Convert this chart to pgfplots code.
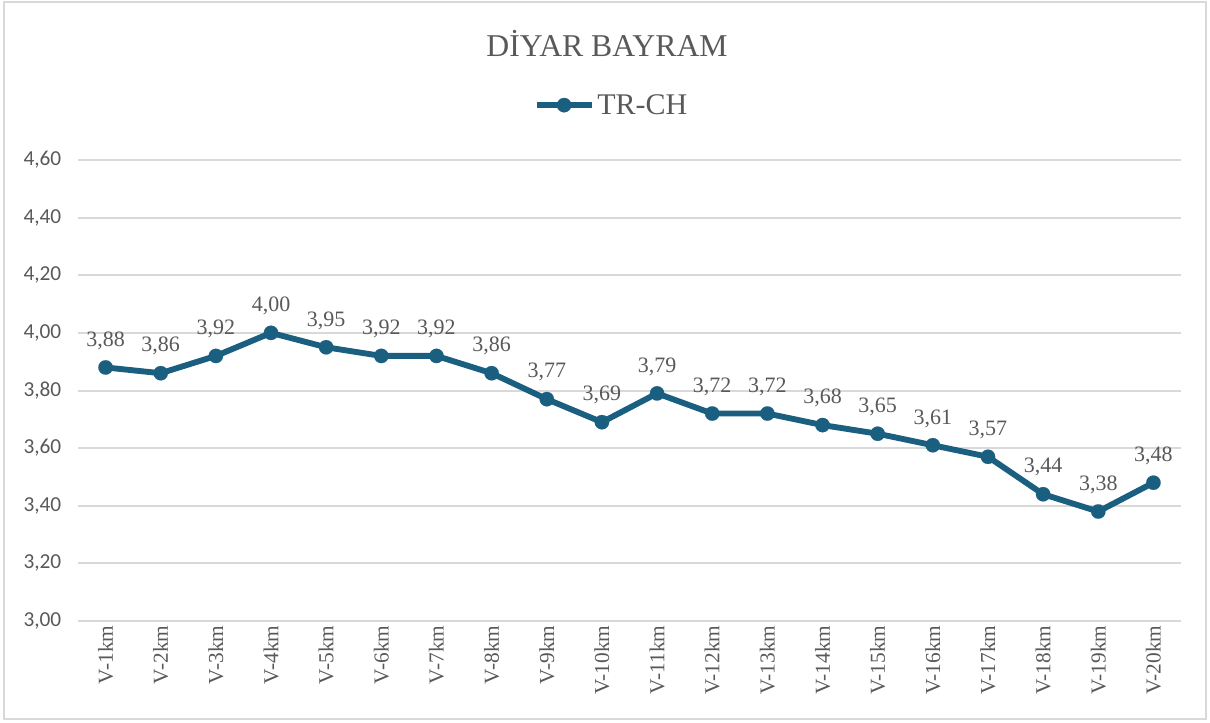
\documentclass[border=0pt]{standalone}
\usepackage{fontspec}
\setmainfont{Liberation Serif}
\newfontfamily\carlito{Carlito}
\usepackage{pgfplots}
\pgfplotsset{compat=1.18}
\definecolor{serie}{HTML}{1A5E80}
\definecolor{txt}{HTML}{595959}
\definecolor{grd}{HTML}{D9D9D9}
\begin{document}
\begin{tikzpicture}[x=0.75pt,y=0.75pt]
% picture size in px units
\path (0,0) rectangle (1210,722);
\draw[grd, line width=1.2pt] (4,3) rectangle (1206,720);
\node[font=\fontsize{23.8}{28}\selectfont, text=txt] at (607,679) {DİYAR BAYRAM};
\begin{axis}[
  at={(58.5pt,75.75pt)}, anchor=south west,
  scale only axis, width=827.25pt, height=345.75pt,
  xmin=0.5, xmax=20.5, ymin=3, ymax=4.6,
  ytick={3,3.2,...,4.61},
  xtick={1,...,20},
  xticklabels={V-1km,V-2km,V-3km,V-4km,V-5km,V-6km,V-7km,V-8km,V-9km,V-10km,
               V-11km,V-12km,V-13km,V-14km,V-15km,V-16km,V-17km,V-18km,V-19km,V-20km},
  axis y line*=left, axis x line*=bottom,
  y axis line style={draw=none},
  x axis line style={grd, line width=1.5pt, -},
  ymajorgrids, grid style={grd, line width=1.5pt},
  major tick length=0pt,
  /pgf/number format/assume math mode=true,
  yticklabel={\pgfmathprintnumber[fixed,fixed zerofill,precision=2,use comma]{\tick}},
  yticklabel style={font=\carlito\fontsize{16}{19}\selectfont, text=txt, anchor=east, xshift=-9pt},
  xticklabel style={font=\fontsize{16}{19}\selectfont, text=txt, rotate=90, anchor=east, xshift=0pt},
  nodes near coords,
  nodes near coords style={font=\fontsize{16.5}{19}\selectfont, text=txt, anchor=south, yshift=10pt,
    /pgf/number format/.cd, fixed, fixed zerofill, precision=2, use comma},
  legend style={at={(0.484,1.119)}, anchor=center, draw=none, fill=none,
    font=\fontsize{22.5}{27}\selectfont, text=txt, inner sep=0pt},
  legend image code/.code={\draw[mark repeat=2,mark phase=2,#1] plot coordinates {(0pt,0pt) (20.6pt,0pt) (41.25pt,0pt)};},
  clip=false,
]
\addplot[serie, line width=4.4pt, mark=*, mark size=5.4pt, mark options={solid, fill=serie, draw=serie, line width=0.1pt}]
  coordinates {
  (1,3.88) (2,3.86) (3,3.92) (4,4.00) (5,3.95) (6,3.92) (7,3.92) (8,3.86) (9,3.77) (10,3.69)
  (11,3.79) (12,3.72) (13,3.72) (14,3.68) (15,3.65) (16,3.61) (17,3.57) (18,3.44) (19,3.38) (20,3.48)
  };
\legend{TR-CH}
\end{axis}
\end{tikzpicture}
\end{document}
